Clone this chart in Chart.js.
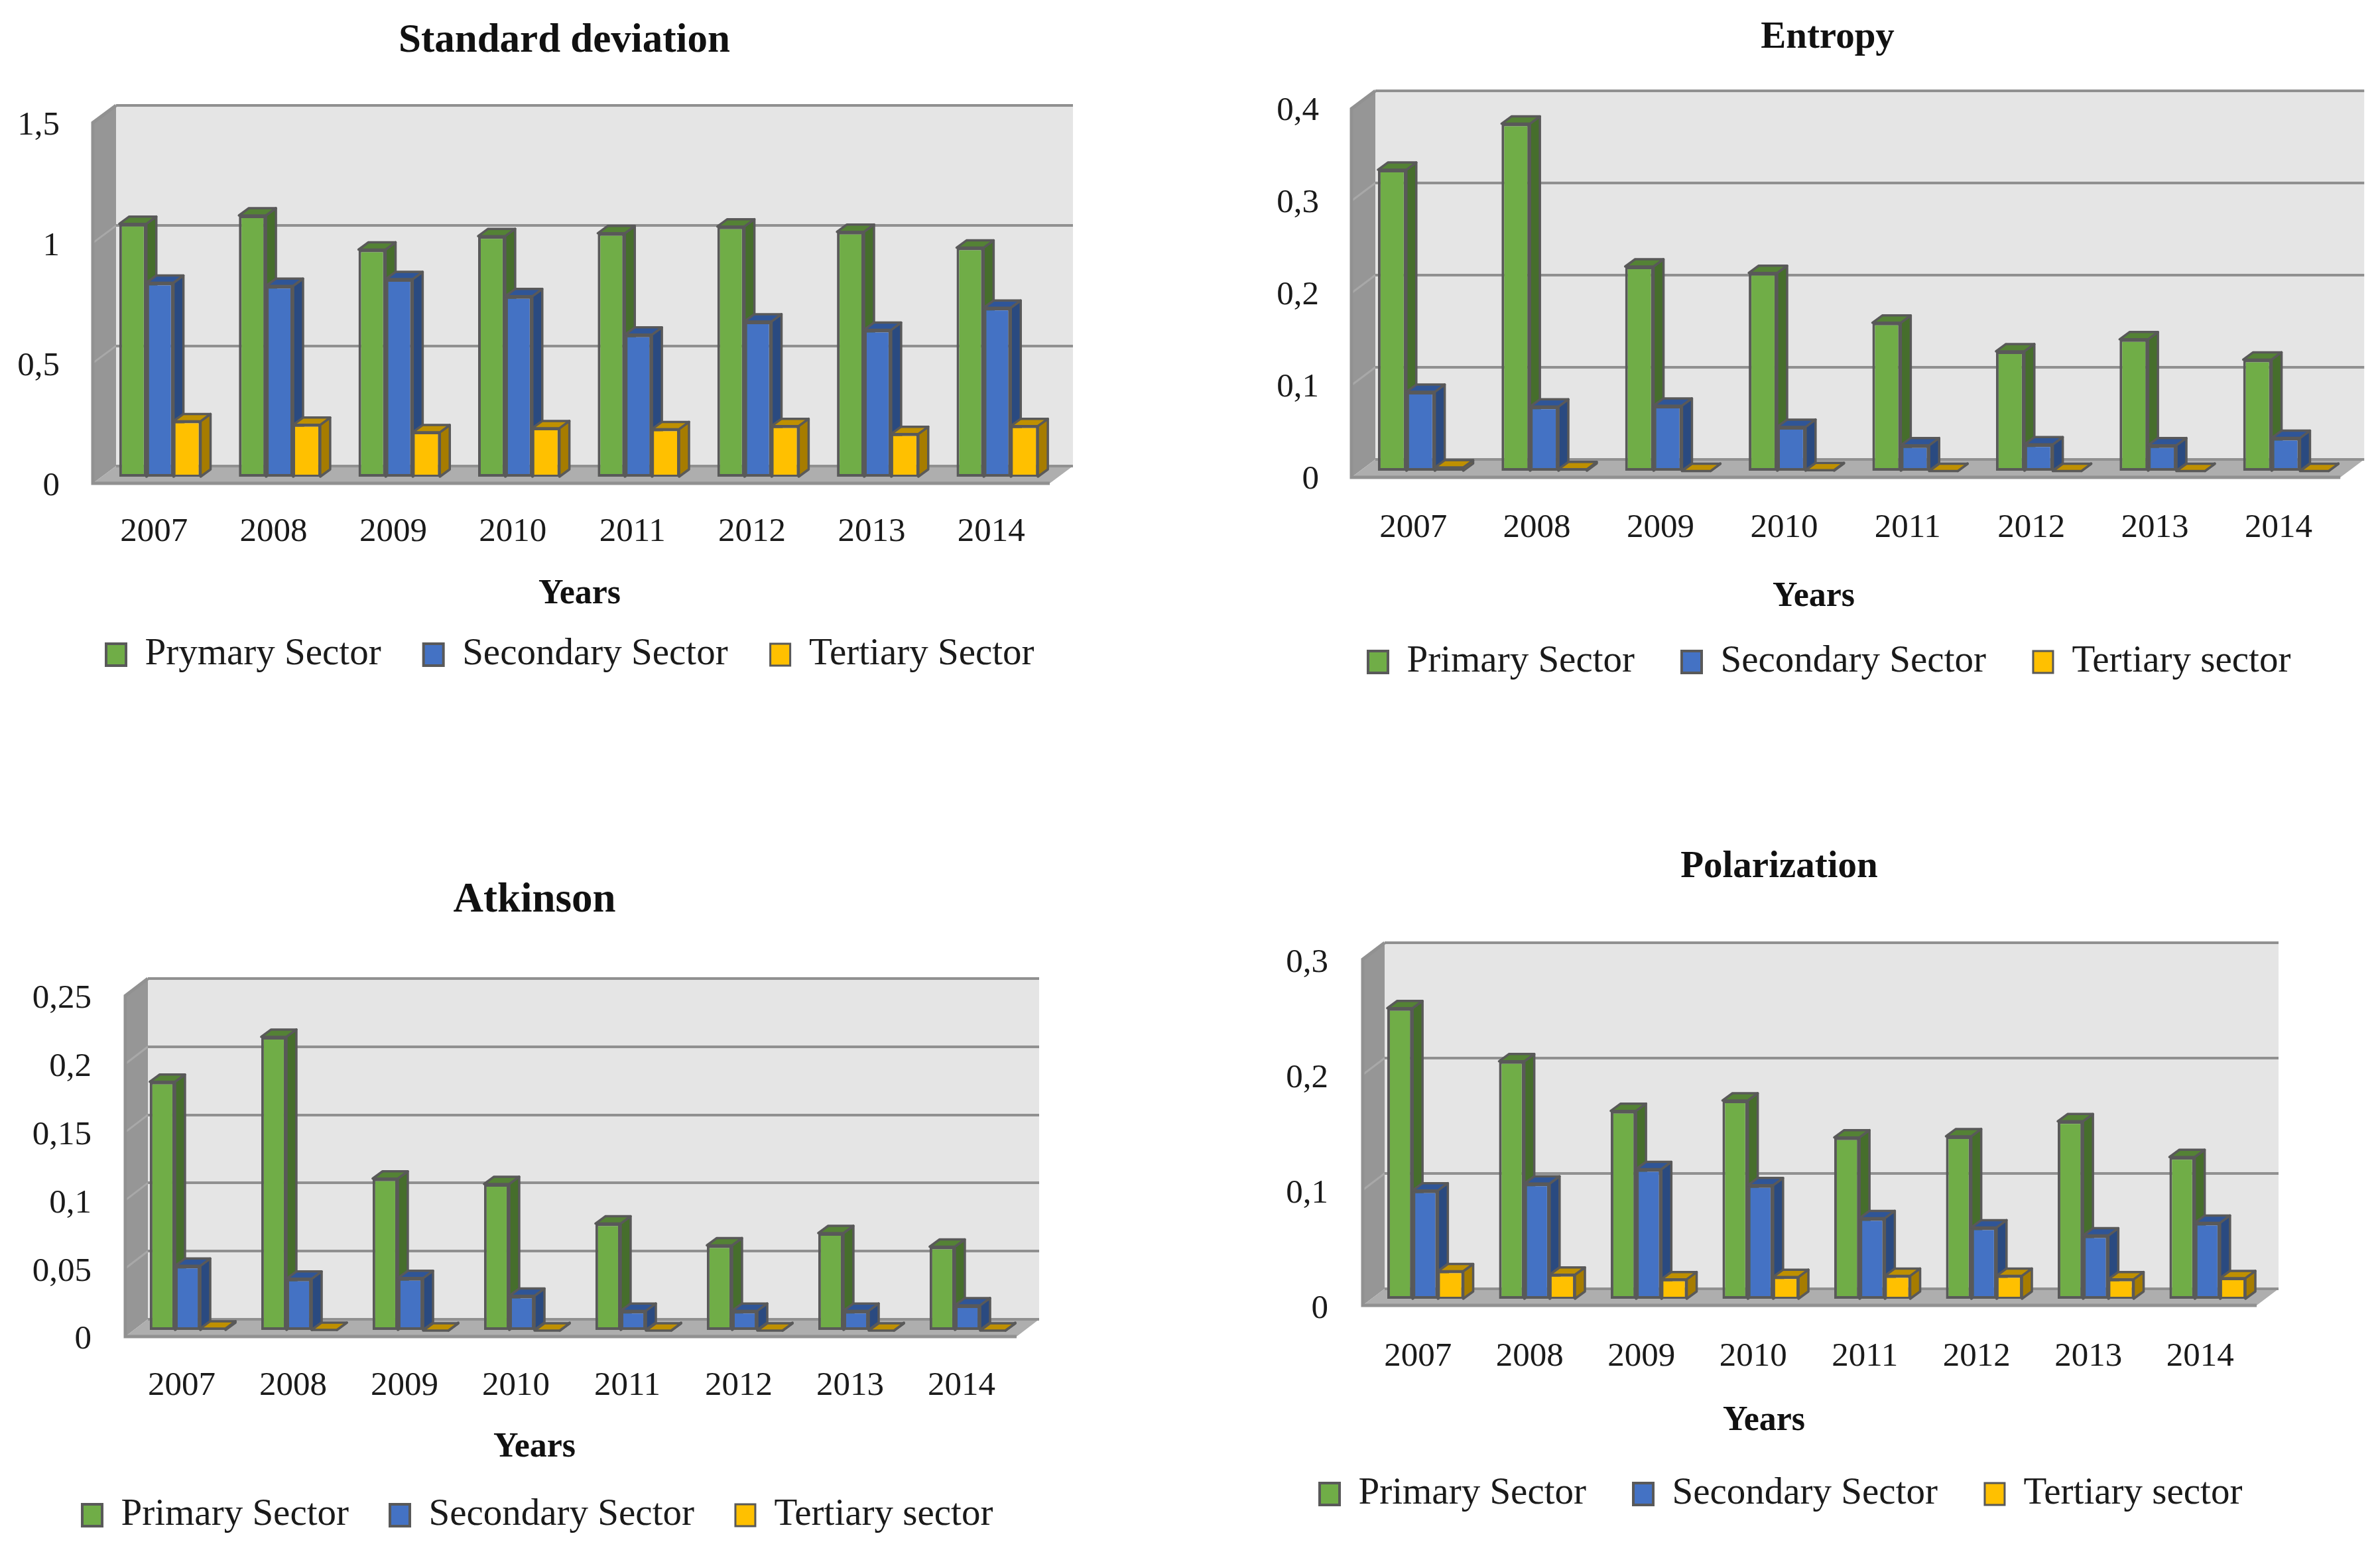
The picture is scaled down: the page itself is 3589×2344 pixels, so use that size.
<!DOCTYPE html>
<html>
<head>
<meta charset="utf-8">
<title>Sector inequality measures</title>
<script src="https://cdn.jsdelivr.net/npm/chart.js@4"></script>
<style>
  html, body { margin: 0; background: #fff; }
  canvas { position: absolute; }
</style>
</head>
<body>
<script>
const years = ["2007", "2008", "2009", "2010", "2011", "2012", "2013", "2014"];
const xAxisTitle = "Years";

// Standard deviation
const stdTicks = ["0", "0,5", "1", "1,5"];
const stdSeriesNames = ["Prymary Sector", "Secondary Sector", "Tertiary Sector"];
const stdPrimary = [1.057, 1.092, 0.95, 1.006, 1.018, 1.046, 1.024, 0.958];
const stdSecondary = [0.812, 0.799, 0.827, 0.756, 0.596, 0.651, 0.616, 0.708];
const stdTertiary = [0.236, 0.221, 0.19, 0.207, 0.203, 0.216, 0.183, 0.216];

// Entropy
const entTicks = ["0", "0,1", "0,2", "0,3", "0,4"];
const seriesNames = ["Primary Sector", "Secondary Sector", "Tertiary sector"];
const entPrimary = [0.328, 0.378, 0.223, 0.216, 0.162, 0.131, 0.144, 0.122];
const entSecondary = [0.087, 0.071, 0.072, 0.049, 0.029, 0.03, 0.029, 0.037];
const entTertiary = [0.005, 0.003, 0.001, 0.002, 0.001, 0.001, 0.001, 0.001];

// Atkinson
const atkTicks = ["0", "0,05", "0,1", "0,15", "0,2", "0,25"];
const atkPrimary = [0.183, 0.216, 0.112, 0.108, 0.079, 0.063, 0.072, 0.062];
const atkSecondary = [0.048, 0.0385, 0.039, 0.026, 0.015, 0.015, 0.015, 0.019];
const atkTertiary = [0.002, 0.001, 0.0005, 0.0005, 0.0005, 0.0005, 0.0005, 0.0005];

// Polarization
const polTicks = ["0", "0,1", "0,2", "0,3"];
const polPrimary = [0.253, 0.207, 0.164, 0.173, 0.141, 0.142, 0.155, 0.124];
const polSecondary = [0.095, 0.101, 0.1135, 0.0995, 0.071, 0.063, 0.056, 0.067];
const polTertiary = [0.025, 0.022, 0.018, 0.02, 0.021, 0.021, 0.018, 0.019];

const fontFamily = "'Liberation Serif', serif";
const textColor = "#1a1a1a";
const edgeColor = "#595959";
const frontColors = ["#70AD47", "#4472C4", "#FFC000"];
const sideColors = ["#466E2C", "#2A4A80", "#A67C00"];
const topColors = ["#548235", "#2F5597", "#BF9000"];

// where things sit on the page
const panels = [
  { title: "Standard deviation", titleSize: 61, ticks: stdTicks, names: stdSeriesNames, max: 1.5, step: 0.5,
    values: [stdPrimary, stdSecondary, stdTertiary],
    origin: [0, 0], area: { left: 175, right: 1618, top: 159, bottom: 703 },
    titlePos: [851, 62], axisPos: [874, 897], legendPos: [160, 987], legendGap: 64,
    tickPad: 61, tickShift: -33, group: 0.68, shift: [-24, 18], depth: [35, 26] },
  { title: "Entropy", titleSize: 57, ticks: entTicks, names: seriesNames, max: 0.4, step: 0.1,
    values: [entPrimary, entSecondary, entTertiary],
    origin: [1794, 0], area: { left: 2074, right: 3568, top: 137, bottom: 693 },
    titlePos: [2756, 57], axisPos: [2735, 901], legendPos: [2063, 998], legendGap: 71,
    tickPad: 65, tickShift: -36, group: 0.69, shift: [-25, 19], depth: [36, 27] },
  { title: "Atkinson", titleSize: 63, ticks: atkTicks, names: seriesNames, max: 0.25, step: 0.05,
    values: [atkPrimary, atkSecondary, atkTertiary],
    origin: [0, 1172], area: { left: 223, right: 1567, top: 1476, bottom: 1990 },
    titlePos: [806, 1359], axisPos: [806, 2184], legendPos: [124, 2285], legendGap: 62,
    tickPad: 62, tickShift: -33, group: 0.68, shift: [-24, 18], depth: [34, 26] },
  { title: "Polarization", titleSize: 57, ticks: polTicks, names: seriesNames, max: 0.3, step: 0.1,
    values: [polPrimary, polSecondary, polTertiary],
    origin: [1794, 1172], area: { left: 2088, right: 3436, top: 1422, bottom: 1944 },
    titlePos: [2683, 1308], axisPos: [2660, 2144], legendPos: [1990, 2253], legendGap: 71,
    tickPad: 64, tickShift: -34, group: 0.68, shift: [-23, 17], depth: [33, 25] }
];

const canvasWidth = 1794;
const canvasHeight = 1172;
const barDepth = [15, 11];

function poly(ctx, pts, fill, stroke, width) {
  ctx.beginPath();
  pts.forEach((p, i) => i ? ctx.lineTo(p[0], p[1]) : ctx.moveTo(p[0], p[1]));
  ctx.closePath();
  ctx.fillStyle = fill;
  ctx.fill();
  if (stroke) {
    ctx.strokeStyle = stroke;
    ctx.lineWidth = width;
    ctx.lineJoin = "round";
    ctx.stroke();
  }
}

// walls, floor, bar extrusion and the moved title / legend
function room(panel) {
  const ox = panel.origin[0], oy = panel.origin[1];
  return {
    id: "room",
    afterLayout(chart) {
      const t = chart.titleBlock;
      const tw = t.right - t.left;
      t.left = panel.titlePos[0] - ox - tw / 2;
      t.right = t.left + tw;
      t.top = panel.titlePos[1] - oy - t.height / 2;
      t.bottom = t.top + t.height;

      const l = chart.legend;
      const pad = panel.legendGap;
      l.left = panel.legendPos[0] - ox - pad;
      l.right = canvasWidth + 500; // keep all three items on one row
      l.top = panel.legendPos[1] - oy - 28 - pad;
      l.bottom = l.top + l.height;
    },
    beforeDraw(chart) {
      const ctx = chart.ctx;
      const a = chart.chartArea;
      const dx = panel.depth[0], dy = panel.depth[1];
      ctx.save();
      ctx.fillStyle = "#E5E5E5";
      ctx.fillRect(a.left, a.top, a.right - a.left, a.bottom - a.top);
      poly(ctx, [[a.left, a.top], [a.left - dx, a.top + dy], [a.left - dx, a.bottom + dy], [a.left, a.bottom]], "#969696");
      poly(ctx, [[a.left, a.bottom], [a.right, a.bottom], [a.right - dx, a.bottom + dy], [a.left - dx, a.bottom + dy]], "#AEAEAE");
      // lines on the side wall
      ctx.strokeStyle = "#A8A8A8";
      ctx.lineWidth = 3;
      chart.scales.y.ticks.forEach(tick => {
        const y = chart.scales.y.getPixelForValue(tick.value);
        if (y <= a.top + 1 || y >= a.bottom - 1) return;
        ctx.beginPath();
        ctx.moveTo(a.left, y);
        ctx.lineTo(a.left - dx, y + dy);
        ctx.stroke();
      });
      // front edges
      ctx.strokeStyle = "#919191";
      ctx.lineWidth = 5;
      ctx.beginPath();
      ctx.moveTo(a.left, a.top);
      ctx.lineTo(a.left - dx, a.top + dy);
      ctx.lineTo(a.left - dx, a.bottom + dy);
      ctx.lineTo(a.right - dx, a.bottom + dy);
      ctx.stroke();
      ctx.restore();
    },
    beforeDatasetDraw() {
      return false; // drawn below, first series first
    },
    afterDatasetsDraw(chart) {
      const ctx = chart.ctx;
      const sx = barDepth[0], sy = barDepth[1];
      chart.data.datasets.forEach((ds, i) => {
        const meta = chart.getDatasetMeta(i);
        ctx.save();
        ctx.translate(panel.shift[0], panel.shift[1]);
        meta.controller.draw();
        meta.data.forEach(bar => {
          const l = bar.x - bar.width / 2, r = bar.x + bar.width / 2;
          const t = bar.y, b = bar.base;
          poly(ctx, [[r, t], [r + sx, t - sy], [r + sx, b - sy], [r, b]], sideColors[i], edgeColor, 3.5);
          poly(ctx, [[l, t], [r, t], [r + sx, t - sy], [l + sx, t - sy]], topColors[i], edgeColor, 3.5);
        });
        ctx.restore();
      });
    },
    afterDraw(chart) {
      const ctx = chart.ctx;
      ctx.save();
      ctx.font = "bold 52px " + fontFamily;
      ctx.fillStyle = "#111";
      ctx.textAlign = "center";
      ctx.textBaseline = "middle";
      ctx.fillText(xAxisTitle, panel.axisPos[0] - ox, panel.axisPos[1] - oy);
      ctx.restore();
    }
  };
}

function createChart(panel) {
  const canvas = document.createElement("canvas");
  canvas.width = canvasWidth;
  canvas.height = canvasHeight;
  canvas.style.left = panel.origin[0] + "px";
  canvas.style.top = panel.origin[1] + "px";
  document.body.appendChild(canvas);

  const chart = new Chart(canvas, {
    type: "bar",
    plugins: [room(panel)],
    data: {
      labels: years,
      datasets: panel.values.map((vals, i) => ({
        label: panel.names[i],
        data: vals,
        backgroundColor: frontColors[i],
        borderColor: edgeColor,
        borderWidth: i === 2 ? 3 : 4,
        borderSkipped: false,
        clip: false,
        barPercentage: 1,
        categoryPercentage: panel.group
      }))
    },
    options: {
      responsive: false,
      animation: false,
      layout: { padding: { left: 0, right: 0, top: 0, bottom: 0 } },
      plugins: {
        title: {
          display: true,
          text: panel.title,
          color: "#111",
          padding: 0,
          font: { family: fontFamily, size: panel.titleSize, weight: "bold", lineHeight: 1.2 }
        },
        legend: {
          position: "bottom",
          align: "start",
          labels: {
            color: textColor,
            boxWidth: 30,
            boxHeight: 33,
            padding: panel.legendGap,
            font: { family: fontFamily, size: 57 }
          }
        },
        tooltip: { enabled: false }
      },
      scales: {
        x: {
          grid: { display: false },
          border: { display: false },
          ticks: {
            color: textColor,
            font: { family: fontFamily, size: 51 },
            padding: panel.tickPad,
            labelOffset: panel.tickShift,
            maxRotation: 0,
            autoSkip: false
          }
        },
        y: {
          min: 0,
          max: panel.max,
          grid: { color: "#909090", lineWidth: 4, drawTicks: false },
          border: { display: false },
          ticks: {
            stepSize: panel.step,
            autoSkip: false,
            color: textColor,
            font: { family: fontFamily, size: 51 },
            padding: 85,
            labelOffset: 31,
            callback: (v, i) => panel.ticks[i]
          }
        }
      }
    }
  });

  // nudge the layout padding until the plot sits where the picture has it
  const target = {
    left: panel.area.left - panel.origin[0],
    right: panel.area.right - panel.origin[0],
    top: panel.area.top - panel.origin[1],
    bottom: panel.area.bottom - panel.origin[1]
  };
  const pad = { left: 0, right: 0, top: 0, bottom: 0 };
  for (let n = 0; n < 4; n++) {
    const a = chart.chartArea;
    pad.left += target.left - a.left;
    pad.right += a.right - target.right;
    pad.top += target.top - a.top;
    pad.bottom += a.bottom - target.bottom;
    chart.options.layout.padding = { ...pad };
    chart.update("none");
  }
  return chart;
}

panels.forEach(createChart);
</script>
</body>
</html>
